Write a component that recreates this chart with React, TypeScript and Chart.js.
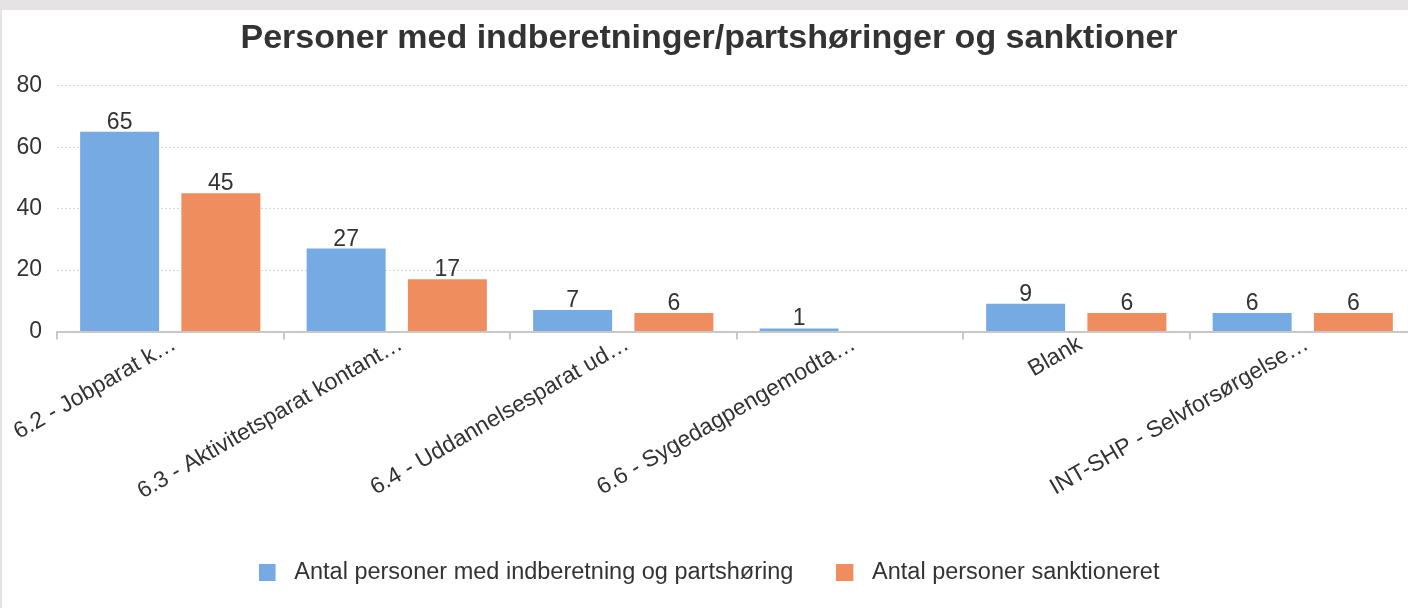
import React, { useEffect, useRef } from "react";
import { Chart, registerables } from "chart.js";

Chart.register(...registerables);

const chartTitle = "Personer med indberetninger/partshøringer og sanktioner";
const categories = [
  "6.2 - Jobparat k…",
  "6.3 - Aktivitetsparat kontant…",
  "6.4 - Uddannelsesparat ud…",
  "6.6 - Sygedagpengemodta…",
  "Blank",
  "INT-SHP - Selvforsørgelse…",
];
const seriesNames = [
  "Antal personer med indberetning og partshøring",
  "Antal personer sanktioneret",
];
const seriesColors = ["#76aae2", "#ef8d5e"];
const personsReported: (number | null)[] = [65, 27, 7, 1, 9, 6];
const personsSanctioned: (number | null)[] = [45, 17, 6, null, 6, 6];
const yMin = 0;
const yMax = 80;
const yStep = 20;

const FONT = '"Liberation Sans", Arial, sans-serif';
const TEXT = "#333333";
const FS = 23;

function legendSwatch(color: string): HTMLCanvasElement {
  const c = document.createElement("canvas");
  c.width = 24;
  c.height = 17;
  const g = c.getContext("2d");
  if (g) {
    g.fillStyle = color;
    g.fillRect(0, 0, 17, 17);
  }
  return c;
}

const valueLabels = {
  id: "valueLabels",
  afterDatasetsDraw(chart: any) {
    const ctx = chart.ctx;
    ctx.save();
    ctx.font = `${FS}px ${FONT}`;
    ctx.fillStyle = TEXT;
    ctx.textAlign = "center";
    ctx.textBaseline = "alphabetic";
    chart.data.datasets.forEach((ds: any, i: number) => {
      const meta = chart.getDatasetMeta(i);
      meta.data.forEach((bar: any, j: number) => {
        const v = ds.data[j];
        if (v == null) return;
        ctx.fillText(String(v), bar.x, bar.y - 3);
      });
    });
    ctx.restore();
  },
};

export default function App() {
  const ref = useRef<HTMLCanvasElement | null>(null);

  useEffect(() => {
    document.body.style.margin = "0";
    document.body.style.overflow = "hidden";
    const canvas = ref.current;
    if (!canvas) return;
    const swatches = seriesColors.map(legendSwatch);
    const chart = new Chart(canvas, {
      type: "bar",
      data: {
        labels: categories,
        datasets: [
          {
            label: seriesNames[0],
            data: personsReported,
            backgroundColor: seriesColors[0],
            categoryPercentage: 0.894,
            barPercentage: 0.78,
          },
          {
            label: seriesNames[1],
            data: personsSanctioned,
            backgroundColor: seriesColors[1],
            categoryPercentage: 0.894,
            barPercentage: 0.78,
          },
        ],
      },
      options: {
        animation: false,
        responsive: false,
        maintainAspectRatio: false,
        layout: { padding: { left: 0, right: 0, top: 0, bottom: 14 } },
        plugins: {
          title: {
            display: true,
            text: chartTitle,
            color: TEXT,
            font: { family: FONT, size: 34, weight: "bold", lineHeight: 1.2 },
            padding: { top: 8, bottom: 27 },
          },
          legend: {
            position: "bottom",
            labels: {
              color: TEXT,
              font: { family: FONT, size: 23.5 },
              usePointStyle: true,
              pointStyleWidth: 24,
              boxHeight: 17,
              padding: 43,
              generateLabels: (c: any) =>
                Chart.defaults.plugins.legend.labels
                  .generateLabels(c)
                  .map((l: any, i: number) => ({ ...l, pointStyle: swatches[i] })),
            },
          },
          tooltip: { enabled: false },
        },
        scales: {
          x: {
            grid: {
              offset: true,
              drawOnChartArea: false,
              drawTicks: true,
              tickLength: 8,
              color: "#c8c8c8",
              lineWidth: 2,
            },
            border: { display: true, color: "#c8c8c8", width: 2 },
            ticks: {
              color: TEXT,
              font: { family: FONT, size: FS },
              minRotation: 30,
              maxRotation: 30,
              autoSkip: false,
              padding: -9,
              labelOffset: 4,
            },
            afterFit: (scale: any) => {
              scale.height = 186;
            },
          },
          y: {
            min: yMin,
            max: yMax,
            ticks: {
              stepSize: yStep,
              color: TEXT,
              font: { family: FONT, size: FS },
              padding: 15,
            },
            grid: {
              color: "#d8d8d8",
              lineWidth: 1,
              drawTicks: false,
            },
            border: { display: false, dash: [2, 2] },
            afterFit: (scale: any) => {
              scale.width = 55;
            },
          },
        },
      },
      plugins: [valueLabels],
    });
    return () => chart.destroy();
  }, []);

  return (
    <div
      style={{
        width: 1408,
        height: 608,
        background: "#e5e3e4",
        position: "relative",
        overflow: "hidden",
      }}
    >
      <div
        style={{
          position: "absolute",
          left: 2,
          top: 10,
          width: 1420,
          height: 598,
          background: "#ffffff",
        }}
      >
        <canvas ref={ref} width={1414} height={598} style={{ display: "block" }} />
      </div>
    </div>
  );
}
